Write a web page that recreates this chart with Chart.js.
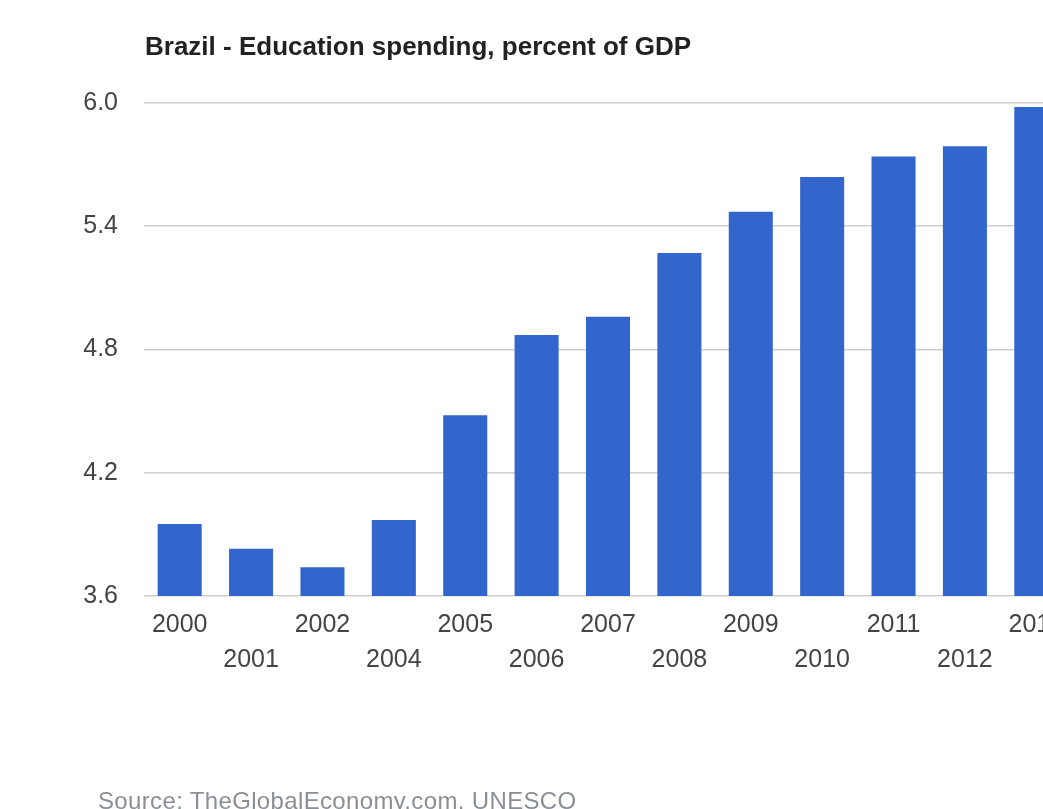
<!DOCTYPE html>
<html>
<head>
<meta charset="utf-8">
<script src="https://cdn.jsdelivr.net/npm/chart.js@4/dist/chart.umd.min.js"></script>
<style>
  html, body { margin: 0; padding: 0; background: #fff; overflow: hidden; width: 1043px; height: 809px; }
  #wrap { position: absolute; left: 0; top: 0; width: 1100px; height: 809px; }
  .title { position: absolute; left: 145px; top: 33px; font: bold 26px "Liberation Sans", Arial, sans-serif; line-height: 26px; color: #222; white-space: nowrap; }
  .source { position: absolute; left: 98px; top: 789px; font: 24px "Liberation Sans", Arial, sans-serif; line-height: 24px; letter-spacing: 0.35px; color: #8a8f96; white-space: nowrap; }
</style>
</head>
<body>
<div id="wrap"><canvas id="eduChart"></canvas></div>
<div class="title">Brazil - Education spending, percent of GDP</div>
<div class="source">Source: TheGlobalEconomy.com, UNESCO</div>
<script>
const years = ['2000', '2001', '2002', '2004', '2005', '2006', '2007', '2008', '2009', '2010', '2011', '2012', '2013'];
const spending = [3.95, 3.83, 3.74, 3.97, 4.48, 4.87, 4.96, 5.27, 5.47, 5.64, 5.74, 5.79, 5.98];
const yTicks = [3.6, 4.2, 4.8, 5.4, 6.0];

const ctx = document.getElementById('eduChart').getContext('2d');
const eduChart = new Chart(ctx, {
    type: 'bar',
    data: {
        labels: years,
        datasets: [{
            label: 'Education spending',
            data: spending,
            backgroundColor: '#3366cc',
            borderWidth: 0,
            barPercentage: 0.617,
            categoryPercentage: 1,
        }],
    },
    options: {
        responsive: true,
        maintainAspectRatio: false,
        animation: false,
        layout: { padding: { left: 0, top: 103, right: 28, bottom: 0 } },
        plugins: {
            legend: { display: false },
            tooltip: { enabled: false },
        },
        scales: {
            x: {
                grid: { display: false, drawTicks: false },
                border: { display: false },
                ticks: {
                    autoSkip: false,
                    maxRotation: 0,
                    padding: 12,
                    color: '#444',
                    font: { family: '"Liberation Sans", Arial, sans-serif', size: 25, lineHeight: 1.38 },
                    // stagger labels on two rows like the original
                    callback: function (value, index) {
                        const label = years[index];
                        return index % 2 === 0 ? [label] : ['', label];
                    },
                },
                afterFit: function (scale) { scale.height = 213; },
            },
            y: {
                min: yTicks[0],
                max: yTicks[yTicks.length - 1],
                afterBuildTicks: function (scale) {
                    scale.ticks = yTicks.map(v => ({ value: v }));
                },
                grid: { color: '#cfcfcf', lineWidth: 1.5, drawTicks: false },
                border: { display: false },
                ticks: {
                    padding: 26,
                    color: '#444',
                    font: { family: '"Liberation Sans", Arial, sans-serif', size: 25 },
                    callback: function (value) { return Number(value).toFixed(1); },
                },
                afterFit: function (scale) { scale.width = 144; },
            },
        },
    },
});
</script>
</body>
</html>
